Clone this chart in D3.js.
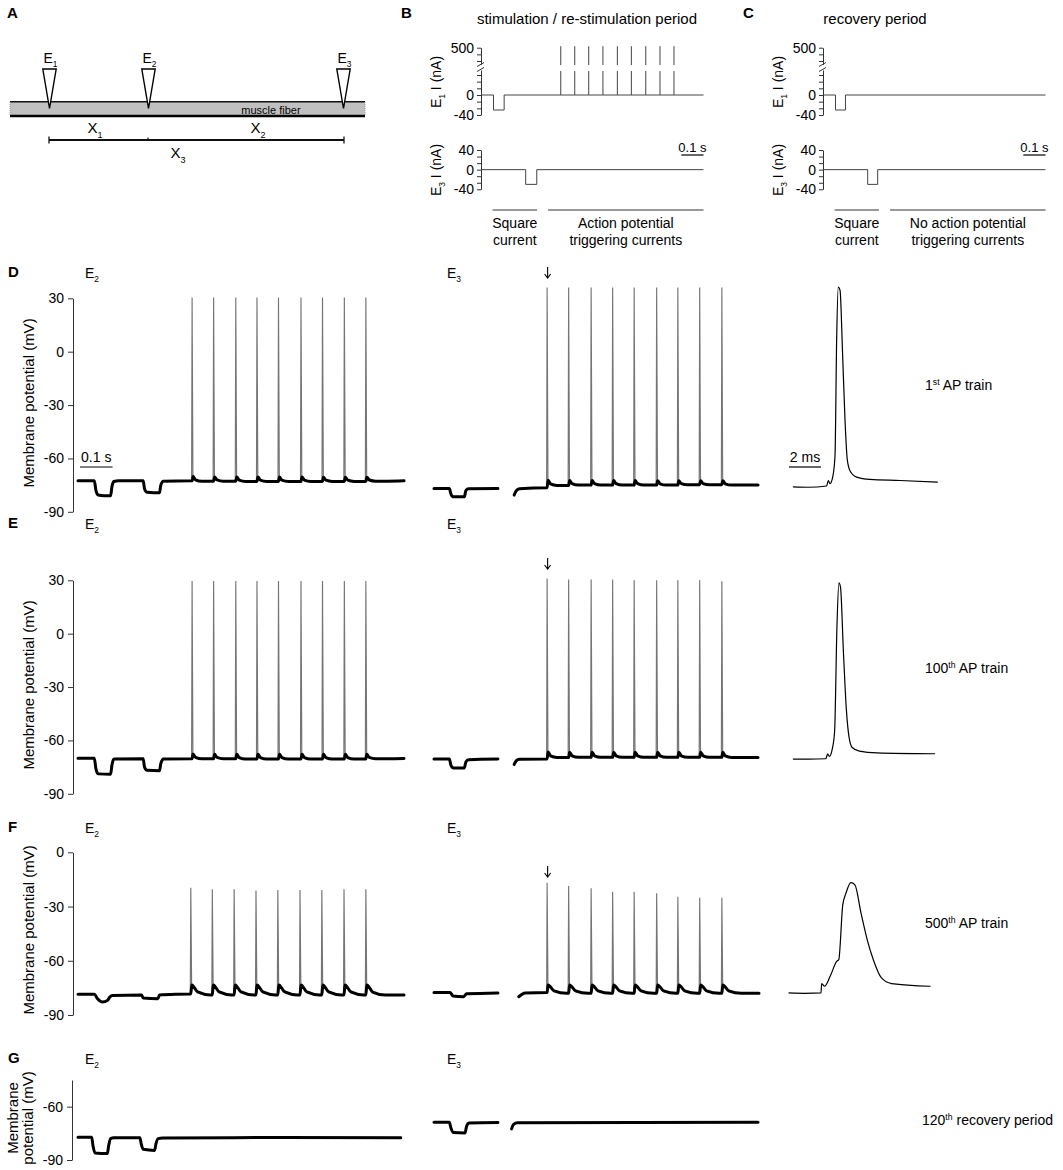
<!DOCTYPE html>
<html><head><meta charset="utf-8">
<script src="https://cdn.jsdelivr.net/npm/d3@7"></script>
<style>
body{margin:0;background:#fff}
text{font-family:"Liberation Sans",Arial,Helvetica,sans-serif;fill:#000}
</style></head>
<body><svg id="c" width="1063" height="1170"></svg>
<script>
// ---------------- DATA ----------------
// Panel B/C stimulation protocols (time in s, current in nA)
const stimE1Square = [[0,0],[0.054,0],[0.054,-30],[0.102,-30],[0.102,0],[1,0]];
const stimE3Square = [[0,0],[0.199,0],[0.199,-30],[0.249,-30],[0.249,0],[1,0]];
const stimAPTimes  = [0.357,0.42,0.483,0.547,0.612,0.675,0.74,0.804,0.867];
const stimAPAmp    = 503;
const recE1Square  = [[0,0],[0.054,0],[0.054,-30],[0.099,-30],[0.099,0],[1,0]];
const recE3Square  = [[0,0],[0.199,0],[0.199,-30],[0.244,-30],[0.244,0],[1,0]];
const bracketSquare = [0.05,0.25];
const bracketAP     = [0.3,1.0];
const nATicks   = [-40,-26.67,-13.33,0,13.33,26.67,40];
const nATicksUp = [473.33,486.67,500];

// Membrane-potential tick values
const mvTicksDE = [30,0,-30,-60,-90];
const mvTicksF  = [0,-30,-60,-90];
const mvTicksG  = [-60,-90];

// Spike tuples: [time s, level before, peak mV, level just after]
// Row D (1st AP train)
const D_E2_base = [[0,-72.6],[0.05,-72.6],[0.055,-78],[0.062,-80.6],[0.08,-81],[0.1,-81],[0.104,-76],[0.11,-73],[0.125,-72.6],[0.2,-72.6],[0.204,-77],[0.212,-79],[0.25,-79.3],[0.254,-75],[0.262,-72.8],[0.349,-72.6]];
const D_E2_spikes = [[0.350,-72.6,30.4,-70.2],[0.416,-72.8,30.4,-70.4],[0.484,-72.8,30.4,-70.4],[0.549,-72.9,30.4,-70.5],[0.615,-72.9,30.4,-70.5],[0.684,-73.0,30.4,-70.5],[0.750,-72.9,30.4,-70.6],[0.817,-72.9,30.4,-70.6],[0.883,-72.9,30.4,-70.6]];
const D_E2_tail = [[0.95,-72.8],[1.0,-72.6]];
const D_E3_seg1 = [[0,-76.9],[0.047,-76.9],[0.052,-80],[0.06,-81.6],[0.093,-81.6],[0.098,-78],[0.106,-77],[0.196,-76.9]];
const D_E3_seg2 = [[0.246,-80.6],[0.252,-78.2],[0.262,-77],[0.346,-76.5]];
const D_E3_spikes = [[0.347,-76.5,36.1,-72.2],[0.413,-75.2,36.1,-72.4],[0.482,-75.0,36.1,-72.4],[0.548,-75.0,36.1,-72.4],[0.614,-75.0,36.1,-72.4],[0.683,-75.0,36.1,-72.6],[0.748,-75.0,36.1,-72.6],[0.815,-74.8,36.1,-72.6],[0.883,-74.8,36.1,-72.6]];
const D_E3_tail = [[0.994,-75.0]];
const D_AP = [[0.27,-76],[1.2,-76.2],[2.35,-75.5],[2.46,-72.4],[2.56,-74.2],[2.73,-70.5],[2.875,-58.6],[2.98,7.7],[3.08,36.3],[3.19,34.5],[3.35,-1.4],[3.5,-38.3],[3.64,-60.4],[3.81,-66.9],[4.23,-70.5],[5.06,-71.8],[6.94,-72.4],[9.27,-73.3]];

// Row E (100th AP train)
const E_E2_base = [[0,-70],[0.05,-70],[0.055,-76],[0.062,-78.8],[0.1,-79],[0.104,-74],[0.11,-70.5],[0.2,-70.3],[0.204,-75],[0.212,-76.8],[0.25,-77],[0.254,-73],[0.262,-70.5],[0.349,-70.3]];
const E_E2_spikes = [[0.350,-70.3,29.6,-67.6],[0.416,-70.3,29.6,-67.8],[0.484,-70.3,29.6,-67.8],[0.549,-70.4,29.6,-67.8],[0.615,-70.4,29.6,-67.8],[0.684,-70.4,29.6,-67.8],[0.750,-70.4,29.6,-67.8],[0.817,-70.4,29.6,-67.8],[0.883,-70.4,29.6,-67.8]];
const E_E2_tail = [[0.95,-70.3],[1.0,-70.2]];
const E_E3_seg1 = [[0,-70.5],[0.047,-70.5],[0.052,-74],[0.06,-75.5],[0.093,-75.5],[0.098,-72],[0.106,-70.8],[0.196,-70.5]];
const E_E3_seg2 = [[0.246,-73.5],[0.252,-71.5],[0.262,-70.6],[0.346,-70.4]];
const E_E3_spikes = [[0.347,-70.4,31,-66.5],[0.413,-69.6,30.5,-66.6],[0.482,-69.5,30.5,-66.6],[0.548,-69.5,30.5,-66.6],[0.614,-69.5,30,-66.6],[0.683,-69.5,30,-66.6],[0.748,-69.5,30,-66.6],[0.815,-69.5,30,-66.6],[0.883,-69.5,29.5,-66.6]];
const E_E3_tail = [[0.994,-69.6]];
const E_AP = [[0.27,-70.5],[1.2,-70.5],[2.3,-70.3],[2.42,-67.5],[2.52,-69],[2.7,-65],[2.85,-55],[3.0,5],[3.12,28.5],[3.22,26],[3.4,-10],[3.58,-42],[3.75,-58],[3.95,-64],[4.4,-66],[5.5,-67],[9.1,-67.5]];

// Row F (500th AP train)
const F_E2_base = [[0,-78.5],[0.05,-78.5],[0.06,-81],[0.075,-82.8],[0.09,-82],[0.098,-80],[0.105,-79.2],[0.195,-79],[0.2,-80.6],[0.245,-81],[0.25,-79],[0.3,-78.5],[0.345,-78.4]];
const F_E2_spikes = [[0.346,-78.4,-19.6,-73.4],[0.412,-78.9,-20.5,-73.4],[0.479,-78.9,-20.5,-73.4],[0.546,-78.9,-21.2,-73.4],[0.613,-78.9,-20.8,-73.4],[0.681,-78.9,-20.8,-73.4],[0.748,-78.9,-20.8,-73.4],[0.816,-78.9,-20.5,-73.4],[0.883,-78.9,-20.5,-73.4]];
const F_E2_tail = [[1.0,-79]];
const F_E3_seg1 = [[0,-77.6],[0.05,-77.6],[0.058,-79.5],[0.09,-79.9],[0.1,-78.3],[0.196,-77.8]];
const F_E3_seg2 = [[0.26,-79.9],[0.28,-77.8],[0.346,-77.6]];
const F_E3_spikes = [[0.347,-77.6,-16.8,-73.4],[0.413,-78,-18.6,-73.4],[0.482,-78,-19.9,-73.4],[0.548,-78,-21.8,-73.4],[0.614,-78,-21.8,-73.4],[0.683,-78,-22.7,-73.4],[0.748,-78,-24.6,-73.4],[0.815,-78,-25.1,-73.4],[0.883,-78,-25.1,-73.4]];
const F_E3_tail = [[0.997,-78]];
const F_AP = [[0,-77.8],[1.0,-78],[2.0,-77.8],[2.04,-72.6],[2.22,-74.1],[2.6,-68],[2.98,-60.3],[3.11,-59.4],[3.36,-29.1],[3.56,-22.6],[3.87,-16.8],[4.12,-18],[4.5,-33.6],[4.89,-48.4],[5.27,-59.4],[5.78,-69.5],[6.41,-72.6],[8.82,-74.1]];

// Row G (120th recovery period)
const G_E2_base = [[0,-77.2],[0.042,-77.2],[0.046,-82],[0.052,-86],[0.09,-86.4],[0.094,-82],[0.1,-78],[0.11,-77.5],[0.19,-77.5],[0.194,-81],[0.2,-84],[0.235,-84.6],[0.239,-81],[0.246,-78],[0.26,-77.6],[0.6,-77.4],[0.99,-77.5]];
const G_E3_seg1 = [[0,-68.8],[0.047,-68.8],[0.052,-72],[0.06,-74.6],[0.095,-74.8],[0.1,-71],[0.108,-69.2],[0.196,-68.9]];
const G_E3_seg2 = [[0.238,-72.5],[0.244,-70],[0.256,-69],[0.994,-68.8]];

// ---------------- DRAWING ----------------
const svg = d3.select("#c");
const FONT = '"Liberation Sans", Arial, Helvetica, sans-serif';
const TRACE_W = 3;

function txt(x,y,s,size,anchor,weight){
  return svg.append("text").attr("x",x).attr("y",y).attr("font-size",size)
    .attr("text-anchor",anchor||"start").attr("font-weight",weight||"normal").text(s);
}
function subLabel(x,y,main,sub,size,anchor){
  const t = svg.append("text").attr("x",x).attr("y",y).attr("font-size",size).attr("text-anchor",anchor||"start");
  t.append("tspan").text(main);
  t.append("tspan").attr("font-size",size*0.6).attr("dy",size*0.3).text(sub);
  return t;
}
function supLabel(x,y,pre,sup,post,size){
  const t = svg.append("text").attr("x",x).attr("y",y).attr("font-size",size);
  t.append("tspan").text(pre);
  t.append("tspan").attr("font-size",size*0.62).attr("dy",-size*0.38).text(sup);
  t.append("tspan").attr("dy",size*0.38).text(post);
  return t;
}
function styleAxis(g,size){
  g.attr("font-size",size||14).attr("font-family",FONT);
  g.selectAll(".domain").attr("stroke","#333");
  g.selectAll(".tick line").attr("stroke","#333");
  g.selectAll(".tick text").attr("fill","#000");
}
function downArrow(x,yTip){
  svg.append("path").attr("d",`M${x},${yTip-11} L${x},${yTip}`).attr("stroke","#000").attr("stroke-width",1.1).attr("fill","none");
  svg.append("path").attr("d",`M${x-3},${yTip-4} L${x},${yTip} L${x+3},${yTip-4}`).attr("stroke","#000").attr("stroke-width",1.1).attr("fill","none");
}

// ===== Panel A =====
txt(7,18,"A",15,"start","bold");
svg.append("rect").attr("x",10).attr("y",101.7).attr("width",355).attr("height",14.3).attr("fill","#c0c0c0");
svg.append("line").attr("x1",10).attr("x2",365).attr("y1",101.7).attr("y2",101.7).attr("stroke","#111").attr("stroke-width",1.5);
svg.append("line").attr("x1",10).attr("x2",365).attr("y1",116).attr("y2",116).attr("stroke","#000").attr("stroke-width",2.5);
[10,365].forEach(x=>svg.append("line").attr("x1",x).attr("x2",x).attr("y1",102).attr("y2",115)
  .attr("stroke","#999").attr("stroke-width",1).attr("stroke-dasharray","1,1"));
const electrodeNames = ["1","2","3"];
const electrodeX = [49.5,148.5,343.5];
electrodeNames.forEach((n,i)=>{
  const x = electrodeX[i];
  svg.append("polygon").attr("points",`${x-6.7},69 ${x+6.7},69 ${x},108.5`)
    .attr("fill","#fff").attr("stroke","#000").attr("stroke-width",1.4);
  subLabel(x+1,63,"E",n,14,"middle");
});
txt(271,113.5,"muscle fiber",11,"middle");
svg.append("line").attr("x1",49).attr("x2",344).attr("y1",140).attr("y2",140).attr("stroke","#111").attr("stroke-width",1.8);
[49,344].forEach(x=>svg.append("line").attr("x1",x).attr("x2",x).attr("y1",136.5).attr("y2",143.5).attr("stroke","#111").attr("stroke-width",1.3));
svg.append("line").attr("x1",148).attr("x2",148).attr("y1",137.5).attr("y2",140).attr("stroke","#111").attr("stroke-width",1.2);
subLabel(95,133,"X","1",15,"middle");
subLabel(258,133,"X","2",15,"middle");
subLabel(178,158,"X","3",15,"middle");

// ===== Panels B & C =====
function stimPanel(x0, letter, letterX, title, titleX, e1Square, e3Square, apTimes, bracketLabels){
  const x = d3.scaleLinear([0,1],[x0+0.5, x0+222.5]);
  const yLow = d3.scaleLinear([-40,50],[115,70]);
  const yUp  = d3.scaleLinear([466.67,500],[64.3,47.7]);
  const y3   = d3.scaleLinear([-40,40],[189.3,150]);
  txt(letterX,18,letter,15,"start","bold");
  txt(titleX,24,title,15,"middle");
  const gl = svg.append("g").attr("transform",`translate(${x0},0)`)
    .call(d3.axisLeft(yLow).tickValues(nATicks).tickSize(4).tickPadding(3).tickSizeOuter(0)
      .tickFormat(d=>Math.abs(d)<1e-6?"0":(Math.abs(d+40)<1e-6?"-40":"")));
  styleAxis(gl,14);
  const gu = svg.append("g").attr("transform",`translate(${x0},0)`)
    .call(d3.axisLeft(yUp).tickValues(nATicksUp).tickSize(4).tickPadding(3).tickSizeOuter(0)
      .tickFormat(d=>d===500?"500":""));
  styleAxis(gu,14);
  svg.append("path").attr("d",`M${x0-4},66.5 L${x0+3},62.5 M${x0-4},71.5 L${x0+3},67.5`)
    .attr("stroke","#333").attr("fill","none").attr("stroke-width",1);
  const lb1 = svg.append("text").attr("transform",`translate(${x0-40},82) rotate(-90)`).attr("text-anchor","middle").attr("font-size",14);
  lb1.append("tspan").text("E"); lb1.append("tspan").attr("font-size",8.5).attr("dy",4).text("1");
  lb1.append("tspan").attr("dy",-4).text(" I (nA)");
  const line = d3.line();
  svg.append("path").attr("d",line(e1Square.map(d=>[x(d[0]),yLow(d[1])])))
    .attr("fill","none").attr("stroke","#444").attr("stroke-width",1);
  apTimes.forEach(t=>{
    svg.append("path").attr("d",line([[x(t),yLow(0)],[x(t),yLow(48)]])).attr("stroke","#444").attr("stroke-width",1);
    svg.append("path").attr("d",line([[x(t),yUp(465)],[x(t),yUp(stimAPAmp)]])).attr("stroke","#444").attr("stroke-width",1);
  });
  const g3 = svg.append("g").attr("transform",`translate(${x0},0)`)
    .call(d3.axisLeft(y3).tickValues(nATicks).tickSize(4).tickPadding(3).tickSizeOuter(0)
      .tickFormat(d=>Math.abs(d)<1e-6?"0":(Math.abs(d+40)<1e-6?"-40":(Math.abs(d-40)<1e-6?"40":""))));
  styleAxis(g3,14);
  const lb3 = svg.append("text").attr("transform",`translate(${x0-40},170) rotate(-90)`).attr("text-anchor","middle").attr("font-size",14);
  lb3.append("tspan").text("E"); lb3.append("tspan").attr("font-size",8.5).attr("dy",4).text("3");
  lb3.append("tspan").attr("dy",-4).text(" I (nA)");
  svg.append("path").attr("d",line(e3Square.map(d=>[x(d[0]),y3(d[1])])))
    .attr("fill","none").attr("stroke","#444").attr("stroke-width",1);
  svg.append("line").attr("x1",x(0.9)).attr("x2",x(1.0)).attr("y1",155).attr("y2",155).attr("stroke","#000").attr("stroke-width",1.2);
  txt((x(0.9)+x(1.0))/2,152,"0.1 s",13,"middle");
  [bracketSquare,bracketAP].forEach((b,i)=>{
    svg.append("line").attr("x1",x(b[0])).attr("x2",x(b[1])).attr("y1",210).attr("y2",210).attr("stroke","#333").attr("stroke-width",1);
    const cx = (x(b[0])+x(b[1]))/2;
    txt(cx,228,bracketLabels[i][0],14,"middle");
    txt(cx,245,bracketLabels[i][1],14,"middle");
  });
}
stimPanel(481,"B",401,"stimulation / re-stimulation period",587,stimE1Square,stimE3Square,stimAPTimes,
  [["Square","current"],["Action potential","triggering currents"]]);
stimPanel(823,"C",743,"recovery period",875,recE1Square,recE3Square,[],
  [["Square","current"],["No action potential","triggering currents"]]);

// ===== Voltage rows =====
const xE2 = d3.scaleLinear([0,1],[78,404]);
const xE3 = d3.scaleLinear([0,1],[434,760]);
const xAP = d3.scaleLinear([0,10],[789,949]);

function thickPoints(base, spikes, tail, decay){
  const pts = base.slice();
  spikes.forEach((s,i)=>{
    const settle = i<spikes.length-1 ? spikes[i+1][1] : tail[0][1];
    pts.push([s[0],s[1]]);
    pts.push([s[0]+0.003,s[3]]);
    pts.push([s[0]+decay*0.35, s[3]+0.7*(settle-s[3])]);
    pts.push([s[0]+decay, settle]);
  });
  return pts.concat(tail);
}
function drawTrace(xs, ys, pts, width){
  const line = d3.line().x(d=>xs(d[0])).y(d=>ys(d[1])).curve(d3.curveMonotoneX);
  svg.append("path").attr("d",line(pts)).attr("fill","none").attr("stroke","#000")
    .attr("stroke-width",width).attr("stroke-linejoin","round").attr("stroke-linecap","round");
}
function drawSpikes(xs, ys, spikes){
  const line = d3.line().x(d=>xs(d[0])).y(d=>ys(d[1]));
  spikes.forEach(s=>{
    svg.append("path").attr("d",line([[s[0]-0.0015,s[1]],[s[0],s[2]],[s[0]+0.0025,s[3]]]))
      .attr("fill","none").attr("stroke","#757575").attr("stroke-width",1.15);
  });
}
function mvAxis(ys, ticks, x0){
  const g = svg.append("g").attr("transform",`translate(${x0},0)`)
    .call(d3.axisLeft(ys).tickValues(ticks).tickSize(5).tickPadding(4).tickSizeOuter(0).tickFormat(d=>String(d)));
  styleAxis(g,14);
}
function rowLabels(letter, yb, arrowTip){
  txt(8,yb,letter,15,"start","bold");
  subLabel(85,yb+1,"E","2",14);
  subLabel(447,yb+1,"E","3",14);
  if(arrowTip) downArrow(xE3(0.347)+0.5,arrowTip);
}
function yLabel(cy){
  svg.append("text").attr("transform",`translate(34,${cy}) rotate(-90)`).attr("text-anchor","middle")
    .attr("font-size",15).text("Membrane potential (mV)");
}

// Row D
const yD = d3.scaleLinear([-90,30],[511.8,298.3]);
rowLabels("D",277,278);
mvAxis(yD,mvTicksDE,73);
yLabel(403);
drawSpikes(xE2,yD,D_E2_spikes);
drawTrace(xE2,yD,thickPoints(D_E2_base,D_E2_spikes,D_E2_tail,0.03),TRACE_W);
drawTrace(xE3,yD,D_E3_seg1,TRACE_W);
drawSpikes(xE3,yD,D_E3_spikes);
drawTrace(xE3,yD,thickPoints(D_E3_seg2,D_E3_spikes,D_E3_tail,0.03),TRACE_W);
drawTrace(xAP,yD,D_AP,1.2);
svg.append("line").attr("x1",xE2(0.006)).attr("x2",xE2(0.106)).attr("y1",467).attr("y2",467).attr("stroke","#000").attr("stroke-width",1.2);
txt((xE2(0.006)+xE2(0.106))/2,462,"0.1 s",14,"middle");
svg.append("line").attr("x1",xAP(0)).attr("x2",xAP(2)).attr("y1",467).attr("y2",467).attr("stroke","#000").attr("stroke-width",1.2);
txt(xAP(1),462,"2 ms",14,"middle");
supLabel(925,390,"1","st"," AP train",14);

// Row E
const yE = d3.scaleLinear([-90,30],[793.8,580.3]);
rowLabels("E",528,569);
mvAxis(yE,mvTicksDE,73);
yLabel(685);
drawSpikes(xE2,yE,E_E2_spikes);
drawTrace(xE2,yE,thickPoints(E_E2_base,E_E2_spikes,E_E2_tail,0.03),TRACE_W);
drawTrace(xE3,yE,E_E3_seg1,TRACE_W);
drawSpikes(xE3,yE,E_E3_spikes);
drawTrace(xE3,yE,thickPoints(E_E3_seg2,E_E3_spikes,E_E3_tail,0.03),TRACE_W);
drawTrace(xAP,yE,E_AP,1.2);
supLabel(925,673,"100","th"," AP train",14);

// Row F
const yF = d3.scaleLinear([-90,0],[1015,852.3]);
rowLabels("F",832,877);
mvAxis(yF,mvTicksF,73);
yLabel(930);
drawSpikes(xE2,yF,F_E2_spikes);
drawTrace(xE2,yF,thickPoints(F_E2_base,F_E2_spikes,F_E2_tail,0.06),TRACE_W);
drawTrace(xE3,yF,F_E3_seg1,TRACE_W);
drawSpikes(xE3,yF,F_E3_spikes);
drawTrace(xE3,yF,thickPoints(F_E3_seg2,F_E3_spikes,F_E3_tail,0.06),TRACE_W);
drawTrace(xAP,yF,F_AP,1.2);
supLabel(925,928,"500","th"," AP train",14);

// Row G
const yG = d3.scaleLinear([-90,-45],[1160,1080]);
rowLabels("G",1063,null);
mvAxis(yG,mvTicksG,72);
svg.append("text").attr("transform","translate(18,1118) rotate(-90)").attr("text-anchor","middle").attr("font-size",15).text("Membrane");
svg.append("text").attr("transform","translate(33,1118) rotate(-90)").attr("text-anchor","middle").attr("font-size",15).text("potential (mV)");
drawTrace(xE2,yG,G_E2_base,TRACE_W);
drawTrace(xE3,yG,G_E3_seg1,TRACE_W);
drawTrace(xE3,yG,G_E3_seg2,TRACE_W);
supLabel(922,1125,"120","th"," recovery period",14);
</script></body></html>
